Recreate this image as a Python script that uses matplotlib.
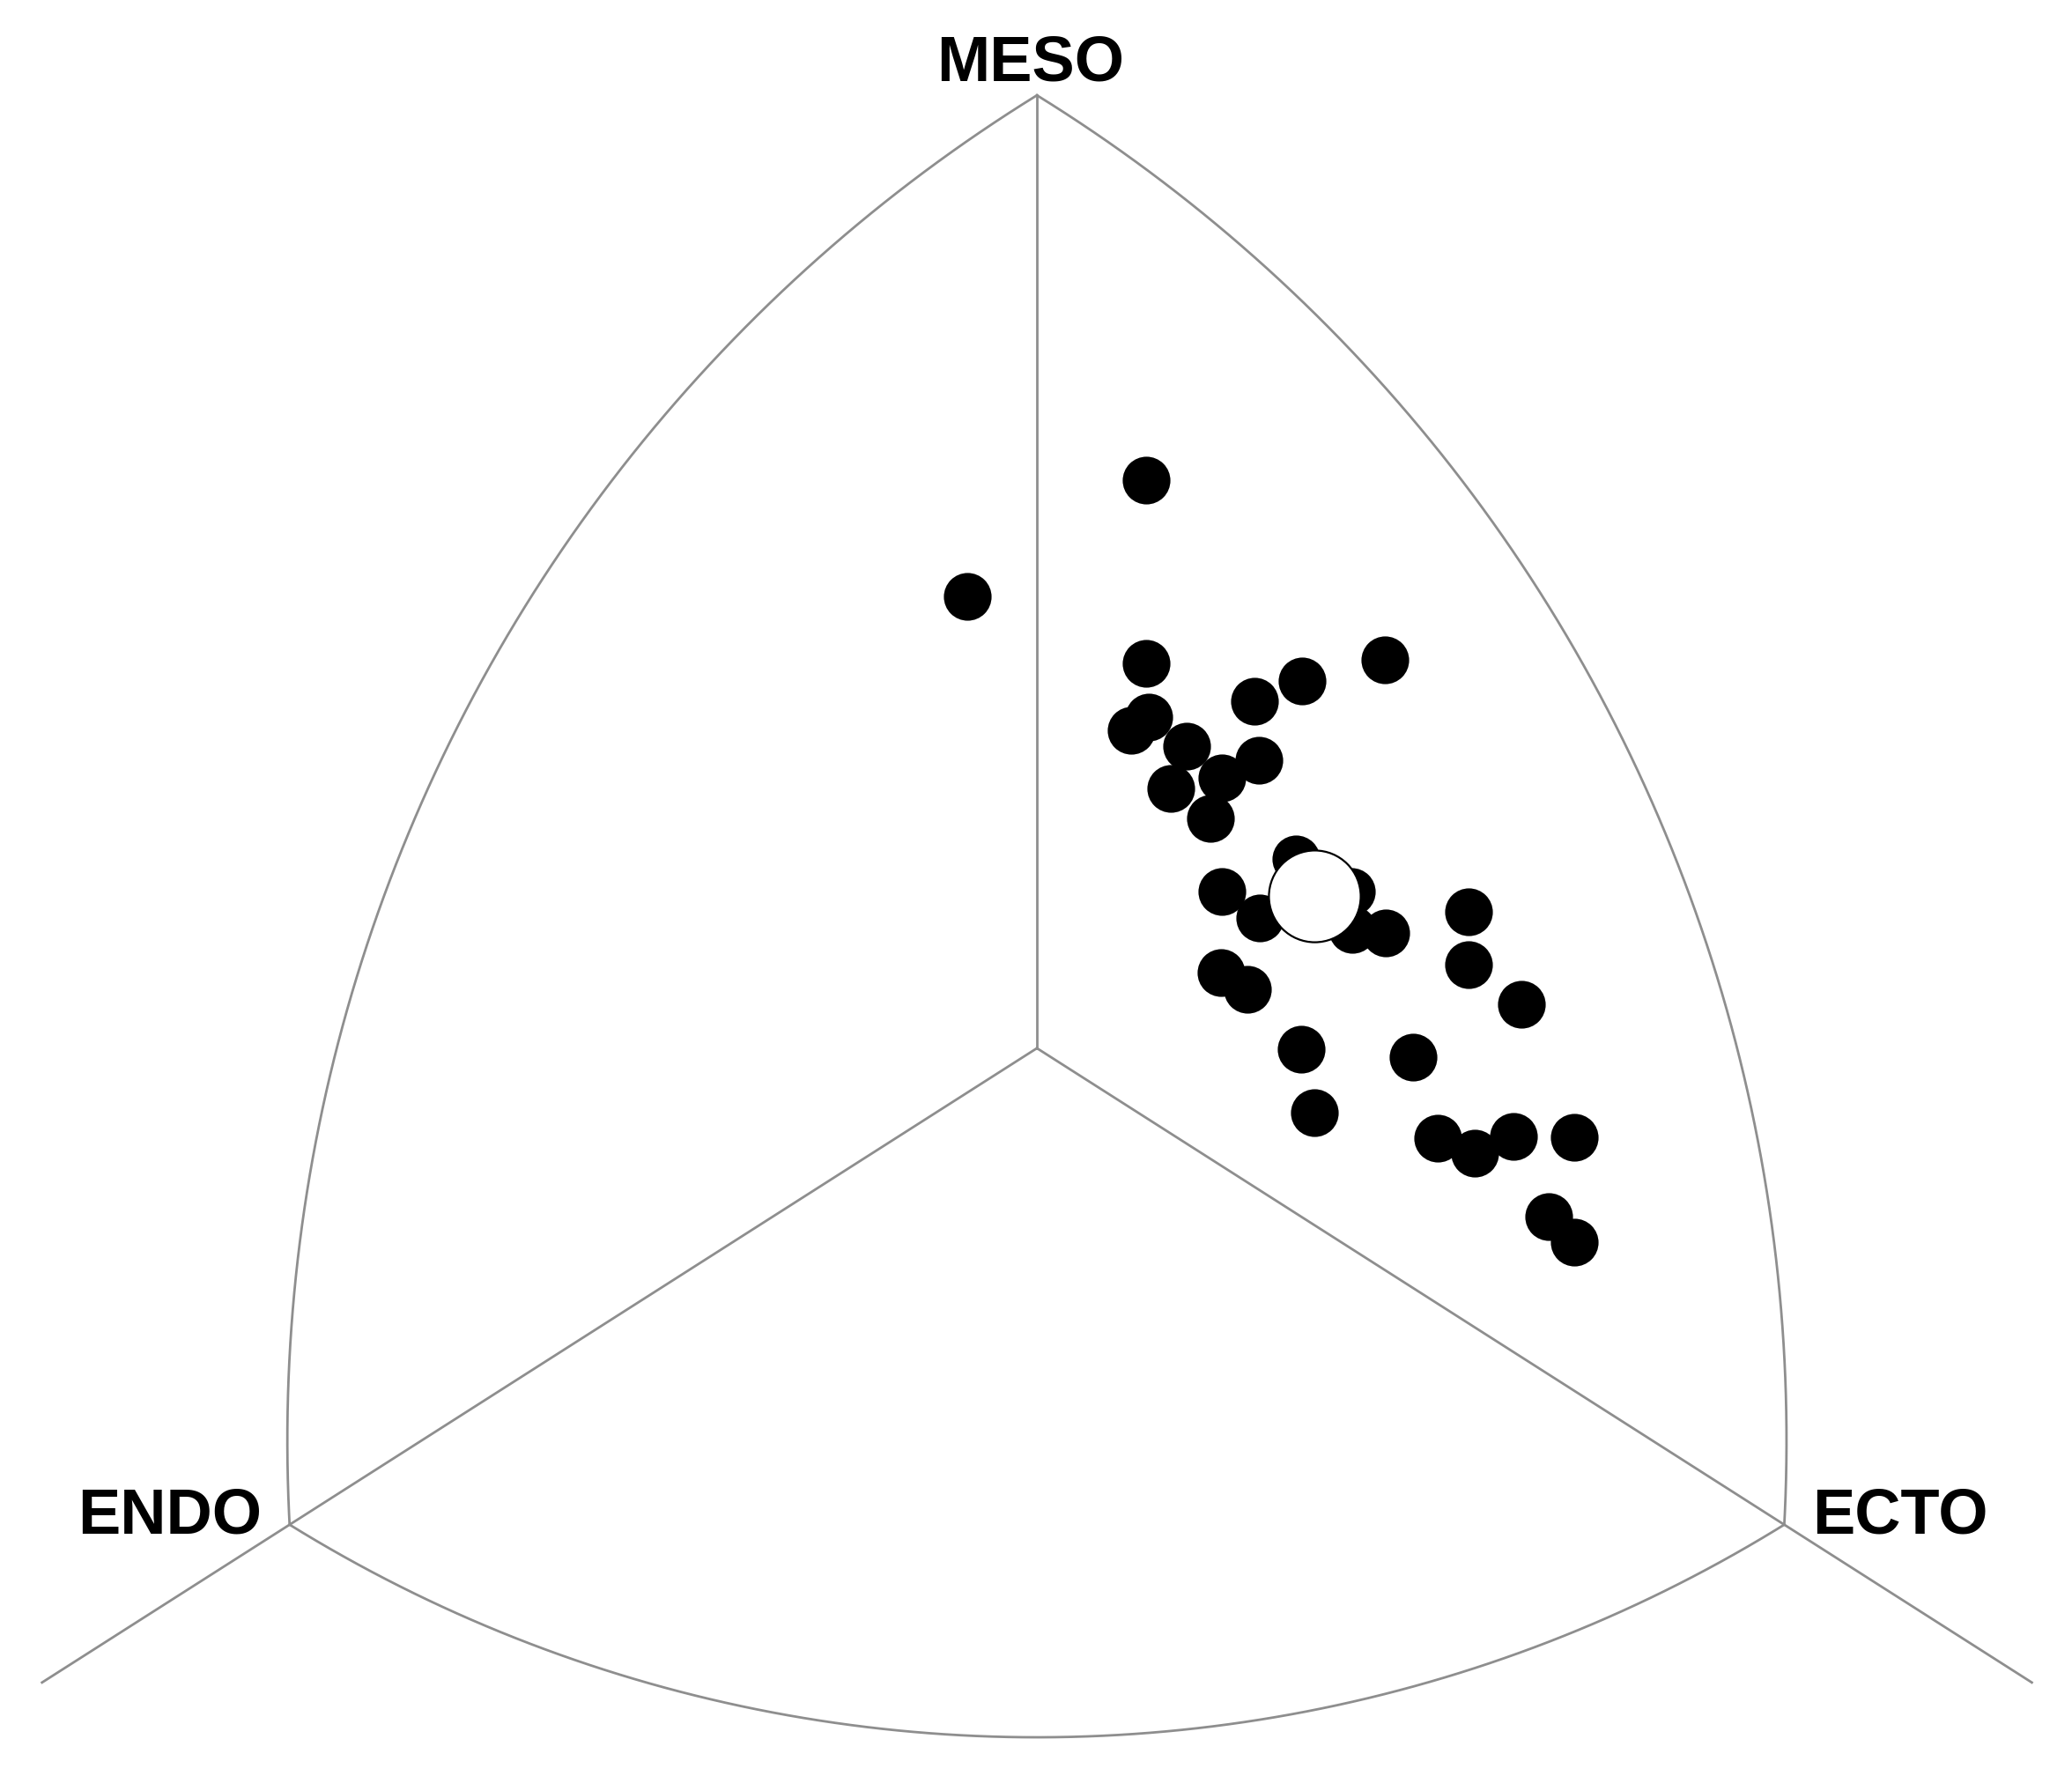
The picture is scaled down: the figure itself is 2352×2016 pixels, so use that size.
import numpy as np
import matplotlib
matplotlib.use('Agg')
import matplotlib.pyplot as plt

# somatochart coordinates: X = ecto - endo, Y = 2*meso - (endo + ecto)
subject_x = [1.17, -0.75, 1.17, 3.72, 2.84, 2.33, 1.20, 1.01, 1.60, 2.38,
             1.98, 1.43, 1.86, 2.77, 3.37, 3.38, 3.73, 1.98, 2.39, 1.97,
             2.25, 4.62, 4.62, 5.19, 2.83, 4.03, 2.97, 4.29, 4.69, 5.10,
             5.75, 5.48, 5.75]
subject_y = [9.54, 7.59, 6.46, 6.52, 6.17, 5.83, 5.56, 5.34, 5.07, 4.84,
             4.54, 4.36, 3.86, 3.18, 2.63, 2.00, 1.94, 2.63, 2.19, 1.27,
             0.99, 2.29, 1.41, 0.74, -0.01, -0.15, -1.08, -1.51, -1.76, -1.48,
             -1.49, -2.83, -3.25]
mean_x = [2.97]
mean_y = [2.56]

labels = ['MESO', 'ENDO', 'ECTO']

# chart frame
meso = (0, 16)
endo = (-8, -8)
ecto = (8, -8)
k = 0.6374  # y-unit / x-unit on the page, arcs are round on the page


def arc_through(p0, pm, p1, n=300):
    pts = np.array([p0, pm, p1], float)
    pts[:, 1] *= k
    (x1, y1), (x2, y2), (x3, y3) = pts
    d = 2 * (x1 * (y2 - y3) + x2 * (y3 - y1) + x3 * (y1 - y2))
    s1, s2, s3 = x1**2 + y1**2, x2**2 + y2**2, x3**2 + y3**2
    ux = (s1 * (y2 - y3) + s2 * (y3 - y1) + s3 * (y1 - y2)) / d
    uy = (s1 * (x3 - x2) + s2 * (x1 - x3) + s3 * (x2 - x1)) / d
    r = np.hypot(x1 - ux, y1 - uy)
    a0, am, a1 = [np.arctan2(y - uy, x - ux) for x, y in pts]
    a1 = a0 + (a1 - a0) % (2 * np.pi)
    am = a0 + (am - a0) % (2 * np.pi)
    if am > a1:
        a1 -= 2 * np.pi
    t = np.linspace(a0, a1, n)
    return ux + r * np.cos(t), (uy + r * np.sin(t)) / k


fig = plt.figure(figsize=(11.76, 10.08), dpi=200)
ax = fig.add_axes([0, 0, 1, 1])
ax.set_xlim(-11.10, 11.08)
ax.set_ylim(-12.22, 17.60)
ax.set_axis_off()

line_kw = dict(color='#8e8e8e', lw=1.0, zorder=1)

ax.plot(*arc_through(meso, (6.13, 5.62), ecto), **line_kw)
ax.plot(*arc_through(meso, (-6.13, 5.62), endo), **line_kw)
ax.plot(*arc_through(endo, (0, -11.57), ecto), **line_kw)

# axes from the centre
ax.plot([0, 0], [0, 16], **line_kw)
ax.plot([0, -10.65], [0, -10.65], **line_kw)
ax.plot([0, 10.65], [0, -10.65], **line_kw)

ax.plot(subject_x, subject_y, 'o', color='black', markersize=19.5,
        markeredgewidth=0, zorder=3)
ax.plot(mean_x, mean_y, 'o', markerfacecolor='white', markeredgecolor='black',
        markersize=37.5, markeredgewidth=0.8, zorder=4)

txt_kw = dict(fontsize=26, fontweight='bold', family='Liberation Sans',
              va='baseline')
ax.text(-0.07, 16.24, labels[0], ha='center', **txt_kw)
ax.text(-8.30, -8.14, labels[1], ha='right', **txt_kw)
ax.text(8.30, -8.14, labels[2], ha='left', **txt_kw)

plt.savefig('out.png', dpi=200, facecolor='white')
